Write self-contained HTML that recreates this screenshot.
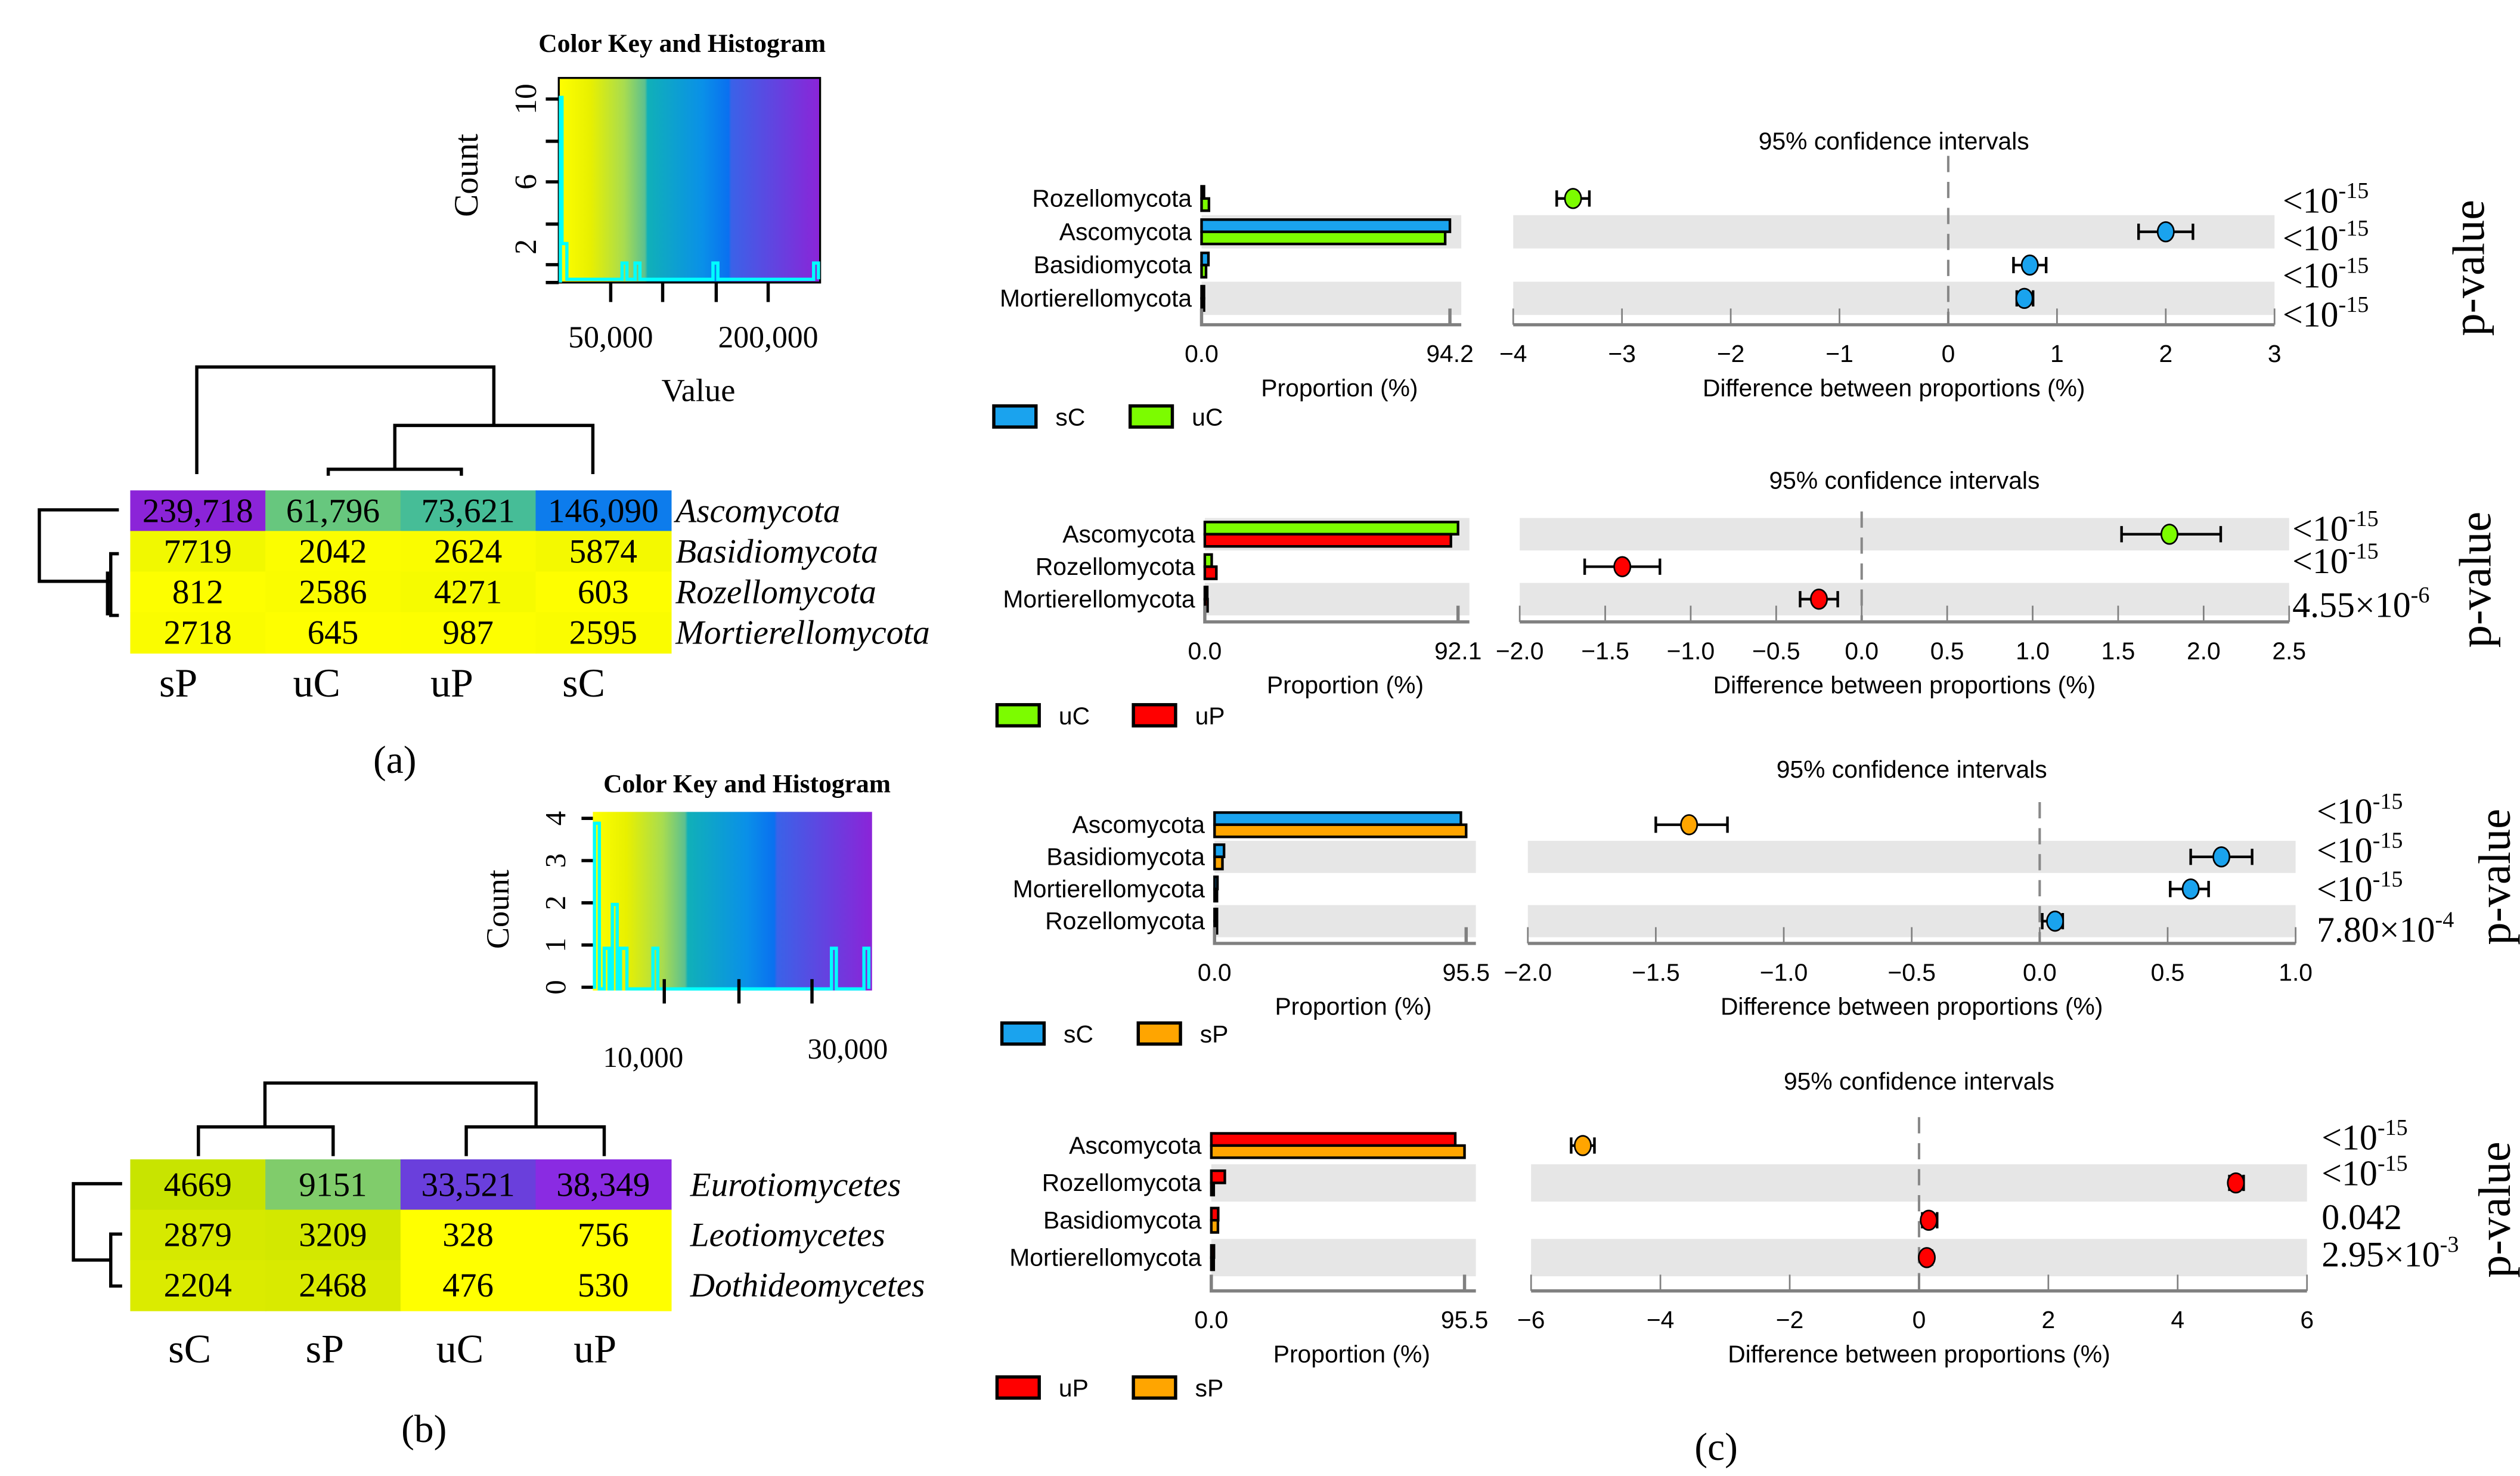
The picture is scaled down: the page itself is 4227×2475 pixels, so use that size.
<!DOCTYPE html>
<html><head><meta charset="utf-8">
<style>
html,body{margin:0;padding:0;background:#fff;}
svg{display:block;}
.serif{font-family:"Liberation Serif",serif;}
.sans{font-family:"Liberation Sans Narrow","Liberation Sans",sans-serif;}
</style></head>
<body>
<svg id="fig" width="4227" height="2475" viewBox="0 0 1552 909" xmlns="http://www.w3.org/2000/svg">
<defs>
<linearGradient id="keyGrad" x1="0" x2="1" y1="0" y2="0">
<stop offset="0" stop-color="#ffff00"/><stop offset="0.12" stop-color="#e8f000"/><stop offset="0.25" stop-color="#a8dc50"/><stop offset="0.33" stop-color="#5cc090"/>
<stop offset="0.34" stop-color="#10b0b8"/><stop offset="0.55" stop-color="#0a90e8"/><stop offset="0.65" stop-color="#0a70f0"/><stop offset="0.66" stop-color="#3a62e8"/><stop offset="1" stop-color="#8b24d8"/>
</linearGradient>
</defs>

<!-- ===== Panel (a) ===== -->
<g>
<text class="serif" x="420" y="32" font-size="16" font-weight="bold" text-anchor="middle">Color Key and Histogram</text>
<rect x="344" y="48" width="161" height="126" fill="url(#keyGrad)" stroke="#000" stroke-width="1.2"/>
<polyline points="345,174 345,60 346,60 346,150 349,150 349,172 383,172 383,162 386,162 386,172 391,172 391,162 394,162 394,172 439,172 439,162 442,162 442,172 501,172 501,162 504,162 504,172" fill="none" stroke="#00ffff" stroke-width="2"/>
<g stroke="#000" stroke-width="2">
<line x1="336" y1="61" x2="344" y2="61"/><line x1="336" y1="87" x2="344" y2="87"/><line x1="336" y1="112" x2="344" y2="112"/><line x1="336" y1="138" x2="344" y2="138"/><line x1="336" y1="163" x2="344" y2="163"/><line x1="336" y1="174" x2="344" y2="174"/>
<line x1="376" y1="174" x2="376" y2="186"/><line x1="408" y1="174" x2="408" y2="186"/><line x1="441" y1="174" x2="441" y2="186"/><line x1="473" y1="174" x2="473" y2="186"/>
</g>
<g class="serif" font-size="19">
<text transform="translate(330,61) rotate(-90)" text-anchor="middle">10</text>
<text transform="translate(330,112) rotate(-90)" text-anchor="middle">6</text>
<text transform="translate(330,152) rotate(-90)" text-anchor="middle">2</text>
<text transform="translate(294,108) rotate(-90)" text-anchor="middle" font-size="21">Count</text>
<text x="376" y="214" text-anchor="middle">50,000</text>
<text x="473" y="214" text-anchor="middle">200,000</text>
<text x="430" y="247" text-anchor="middle" font-size="20">Value</text>
</g>
<g fill="none" stroke="#000" stroke-width="2">
<polyline points="121,292 121,226 304,226 304,262"/>
<polyline points="243,289 243,262 365,262 365,292"/>
<polyline points="202,293 202,289 284,289 284,293"/>
</g>
<g fill="none" stroke="#000" stroke-width="2">
<polyline points="73,314 24,314 24,358 68,358"/>
<polyline points="73,341 68,341 68,379 73,379"/>
<polyline points="66,352 66,379"/>
</g>
<g id="heatA"></g>
<text class="serif" x="243" y="476" font-size="24" text-anchor="middle">(a)</text>
</g>

<!-- ===== Panel (b) ===== -->
<g>
<text class="serif" x="460" y="488" font-size="16" font-weight="bold" text-anchor="middle">Color Key and Histogram</text>
<rect x="365" y="500" width="172" height="110" fill="url(#keyGrad)"/>
<polyline points="366,609 366,507 369,507 369,609 372,609 372,584 375,584 375,609 377,609 377,557 380,557 380,609 382,609 382,584 386,584 386,609 402,609 402,584 405,584 405,609 512,609 512,584 515,584 515,609 532,609 532,584 535,584 535,609" fill="none" stroke="#00ffff" stroke-width="2"/>
<g stroke="#000" stroke-width="2">
<line x1="358" y1="608" x2="365" y2="608"/><line x1="358" y1="582" x2="365" y2="582"/><line x1="358" y1="556" x2="365" y2="556"/><line x1="358" y1="530" x2="365" y2="530"/><line x1="358" y1="504" x2="365" y2="504"/>
<line x1="409" y1="603" x2="409" y2="618"/><line x1="455" y1="603" x2="455" y2="618"/><line x1="500" y1="603" x2="500" y2="618"/>
</g>
<g class="serif" font-size="18">
<text transform="translate(348,608) rotate(-90)" text-anchor="middle">0</text>
<text transform="translate(348,582) rotate(-90)" text-anchor="middle">1</text>
<text transform="translate(348,556) rotate(-90)" text-anchor="middle">2</text>
<text transform="translate(348,530) rotate(-90)" text-anchor="middle">3</text>
<text transform="translate(348,504) rotate(-90)" text-anchor="middle">4</text>
<text transform="translate(313,560) rotate(-90)" text-anchor="middle" font-size="20">Count</text>
<text x="396" y="657" text-anchor="middle">10,000</text>
<text x="522" y="652" text-anchor="middle">30,000</text>
</g>
<g fill="none" stroke="#000" stroke-width="2">
<polyline points="163,694 163,667 330,667 330,694"/>
<polyline points="122,712 122,694 205,694 205,712"/>
<polyline points="287,712 287,694 372,694 372,712"/>
</g>
<g fill="none" stroke="#000" stroke-width="2">
<polyline points="75,729 45,729 45,776 68,776"/>
<polyline points="75,760 68,760 68,792 75,792"/>
</g>
<g id="heatB"></g>
<text class="serif" x="261" y="888" font-size="24" text-anchor="middle">(b)</text>
</g>

<g id="panelsC"></g>
<text class="serif" x="1057" y="899" font-size="24" text-anchor="middle">(c)</text>
</svg>

<script>
// ---------- Heatmap data ----------
const aRows = ["Ascomycota","Basidiomycota","Rozellomycota","Mortierellomycota"];
const aCols = ["sP","uC","uP","sC"];
const aVals = [[239718,61796,73621,146090],[7719,2042,2624,5874],[812,2586,4271,603],[2718,645,987,2595]];
const aLabels = [["239,718","61,796","73,621","146,090"],["7719","2042","2624","5874"],["812","2586","4271","603"],["2718","645","987","2595"]];
const bRows = ["Eurotiomycetes","Leotiomycetes","Dothideomycetes"];
const bCols = ["sC","sP","uC","uP"];
const bVals = [[4669,9151,33521,38349],[2879,3209,328,756],[2204,2468,476,530]];
const bLabels = [["4669","9151","33,521","38,349"],["2879","3209","328","756"],["2204","2468","476","530"]];

// ---------- Panel (c) data ----------
const c1Cats = ["Rozellomycota","Ascomycota","Basidiomycota","Mortierellomycota"];
const c1A = [0.3,94.2,2.6,0.9];
const c1B = [2.8,92.4,1.7,0.2];
const c1Diff = [-3.45,2.0,0.75,0.7];
const c1Lo = [-3.6,1.75,0.6,0.63];
const c1Hi = [-3.3,2.25,0.9,0.78];
const c1P = [["<10","-15"],["<10","-15"],["<10","-15"],["<10","-15"]];
const c1Ticks = [-4,-3,-2,-1,0,1,2,3];
const c1TickLabels = ["\u22124","\u22123","\u22122","\u22121","0","1","2","3"];

const c2Cats = ["Ascomycota","Rozellomycota","Mortierellomycota"];
const c2A = [92.1,2.5,0.6];
const c2B = [89.5,4.2,1.0];
const c2Diff = [1.8,-1.4,-0.25];
const c2Lo = [1.52,-1.62,-0.36];
const c2Hi = [2.1,-1.18,-0.14];
const c2P = [["<10","-15"],["<10","-15"],["4.55\u00d710","-6"]];
const c2Ticks = [-2,-1.5,-1,-0.5,0,0.5,1,1.5,2,2.5];
const c2TickLabels = ["\u22122.0","\u22121.5","\u22121.0","\u22120.5","0.0","0.5","1.0","1.5","2.0","2.5"];

const c3Cats = ["Ascomycota","Basidiomycota","Mortierellomycota","Rozellomycota"];
const c3A = [93.5,3.6,1.1,0.3];
const c3B = [95.5,3.0,0.5,0.25];
const c3Diff = [-1.37,0.71,0.59,0.06];
const c3Lo = [-1.5,0.59,0.51,0.01];
const c3Hi = [-1.22,0.83,0.66,0.09];
const c3P = [["<10","-15"],["<10","-15"],["<10","-15"],["7.80\u00d710","-4"]];
const c3Ticks = [-2,-1.5,-1,-0.5,0,0.5,1];
const c3TickLabels = ["\u22122.0","\u22121.5","\u22121.0","\u22120.5","0.0","0.5","1.0"];

const c4Cats = ["Ascomycota","Rozellomycota","Basidiomycota","Mortierellomycota"];
const c4A = [92.0,5.1,2.6,1.0];
const c4B = [95.5,0.3,2.5,0.9];
const c4Diff = [-5.2,4.9,0.15,0.12];
const c4Lo = [-5.38,4.8,0.05,0.06];
const c4Hi = [-5.02,5.02,0.28,0.2];
const c4P = [["<10","-15"],["<10","-15"],["0.042",""],["2.95\u00d710","-3"]];
const c4Ticks = [-6,-4,-2,0,2,4,6];
const c4TickLabels = ["\u22126","\u22124","\u22122","0","2","4","6"];

const NS = "http://www.w3.org/2000/svg";
function mk(tag, attrs, parent){ const e=document.createElementNS(NS,tag); for(const k in attrs) e.setAttribute(k,attrs[k]); if(parent) parent.appendChild(e); return e; }

function interp(stops, v){
  for(let i=1;i<stops.length;i++){ if(v<=stops[i][0]){ const t=(v-stops[i-1][0])/(stops[i][0]-stops[i-1][0]); const a=stops[i-1][1], b=stops[i][1]; return `rgb(${Math.round(a[0]+(b[0]-a[0])*t)},${Math.round(a[1]+(b[1]-a[1])*t)},${Math.round(a[2]+(b[2]-a[2])*t)})`; } }
  const l=stops[stops.length-1][1]; return `rgb(${l[0]},${l[1]},${l[2]})`;
}
function heatColor(v){
  return interp([[0,[255,255,0]],[5000,[245,250,0]],[10000,[238,246,0]],[60000,[108,200,122]],[75000,[66,188,154]],[150000,[10,120,240]],[240000,[139,36,216]]],v);
}
function heatColorB(v){
  return interp([[0,[255,255,0]],[1000,[255,255,0]],[2200,[219,235,0]],[4700,[200,228,0]],[9200,[127,204,108]],[33500,[106,63,220]],[38400,[138,43,226]]],v);
}

function drawHeat(g, rows, cols, vals, labels, x0, y0, cw, rh, colFn, rowLabelX, colLabelY, colLabelOffsets, fs){
  rows.forEach((r,i)=>{
    cols.forEach((c,j)=>{
      const rect=mk("rect",{x:x0+j*cw,y:y0+i*rh,width:cw+0.5,height:rh+0.5,fill:colFn(vals[i][j])},g);
      
      
      const t=mk("text",{x:x0+j*cw+cw/2,y:y0+i*rh+rh/2+7,"text-anchor":"middle","font-size":fs,class:"serif"},g);
      t.textContent=labels[i][j];
      
      
    });
    const rl=mk("text",{x:rowLabelX,y:y0+i*rh+rh/2+7,"font-size":fs,"font-style":"italic",class:"serif"},g);
    rl.textContent=r;
    
    
  });
  cols.forEach((c,j)=>{
    const cl=mk("text",{x:x0+j*cw+cw/2+colLabelOffsets[j],y:colLabelY,"text-anchor":"middle","font-size":25,class:"serif"},g);
    cl.textContent=c;
    
    
  });
}
drawHeat(document.getElementById("heatA"),aRows,aCols,aVals,aLabels,80,302,83.25,25,heatColor,416,429,[-12,-10,-10,-12],21);
drawHeat(document.getElementById("heatB"),bRows,bCols,bVals,bLabels,80,714,83.25,31,heatColorB,425,839,[-5,-5,-5,-5],21);

// ---------- Panel (c) ----------
const COL = {sC:"#1aa3ee", uC:"#7cfc00", uP:"#ff0000", sP:"#ffa500"};
function drawPanel(cfg, cats, A, B, diff, lo, hi, pv, ticks, tickLabels){
  const root=document.getElementById("panelsC");
  const g=mk("g",{},root);
  
  
  const n=cats.length, rh=cfg.rh;
  const xB=v=>cfg.bx0+(v/cfg.bmax)*(cfg.bx1-cfg.bx0);
  const xD=v=>cfg.dx0+(v-ticks[0])/(ticks[ticks.length-1]-ticks[0])*(cfg.dx1-cfg.dx0);
  const rowTop=i=>cfg.y0+i*rh;
  const FS=15;
  const tt=mk("text",{x:(cfg.dx0+cfg.dx1)/2,y:cfg.titleY,"text-anchor":"middle","font-size":FS,class:"sans"},g);
  tt.textContent="95% confidence intervals";
  
  
  for(let i=0;i<n;i++){ if(i%2===cfg.band){
    const b1=mk("rect",{x:cfg.bx0,y:rowTop(i),width:cfg.bandEnd-cfg.bx0,height:rh,fill:"#e6e6e6"},g);
    
    
    const b2=mk("rect",{x:cfg.dx0,y:rowTop(i),width:cfg.dx1-cfg.dx0,height:rh,fill:"#e6e6e6"},g);
    
    
  }}
  const z=mk("line",{x1:xD(0),x2:xD(0),y1:rowTop(0)-cfg.zTop,y2:cfg.axisY,stroke:"#888","stroke-width":1.5,"stroke-dasharray":"10,6"},g);
  
  
  for(let i=0;i<n;i++){
    const cy=rowTop(i)+rh/2;
    const lab=mk("text",{x:cfg.bx0-6,y:cy+5,"text-anchor":"end","font-size":FS,class:"sans"},g);
    lab.textContent=cats[i];
    
    
    const bh=Math.min(7.5,rh/2-2);
    const r1=mk("rect",{x:cfg.bx0,y:cy-bh,width:Math.max(xB(A[i])-cfg.bx0,1.5),height:bh,fill:cfg.colA,stroke:"#000","stroke-width":1.6},g);
    
    
    const r2=mk("rect",{x:cfg.bx0,y:cy,width:Math.max(xB(B[i])-cfg.bx0,1.5),height:bh,fill:cfg.colB,stroke:"#000","stroke-width":1.6},g);
    
    
    const ci=mk("path",{d:`M${xD(lo[i])},${cy}H${xD(hi[i])}M${xD(lo[i])},${cy-5}V${cy+5}M${xD(hi[i])},${cy-5}V${cy+5}`,stroke:"#000","stroke-width":1.6,fill:"none"},g);
    
    
    const pt=mk("ellipse",{cx:xD(diff[i]),cy:cy,rx:5,ry:6,fill:diff[i]>0?cfg.colA:cfg.colB,stroke:"#000","stroke-width":1},g);
    
    
    const pt2=mk("text",{x:cfg.px,y:cfg.py[i],"font-size":22,class:"serif"},g);
    const s1=mk("tspan",{},pt2); s1.textContent=pv[i][0];
    if(pv[i][1]){ const s2=mk("tspan",{dy:-9,"font-size":14},pt2); s2.textContent=pv[i][1]; }
    
    
  }
  const ax1=mk("path",{d:`M${cfg.bx0},${cfg.axisY-10}V${cfg.axisY}H${cfg.bandEnd}M${xB(cfg.bmax)},${cfg.axisY-10}V${cfg.axisY}`,stroke:"#808080","stroke-width":2,fill:"none"},g);
  
  
  [["0.0",cfg.bx0],[String(cfg.bmax.toFixed(1)),xB(cfg.bmax)]].forEach(([t,x])=>{
    const e=mk("text",{x:x,y:cfg.axisY+23,"text-anchor":"middle","font-size":FS,class:"sans"},g); e.textContent=t;
    
    
  });
  const ax2=mk("path",{d:`M${cfg.dx0},${cfg.axisY}H${cfg.dx1}`,stroke:"#808080","stroke-width":2,fill:"none"},g);
  
  
  ticks.forEach((v,k)=>{
    const tk=mk("line",{x1:xD(v),x2:xD(v),y1:cfg.axisY-10,y2:cfg.axisY,stroke:"#808080","stroke-width":1},g);
    
    
    const e=mk("text",{x:xD(v),y:cfg.axisY+23,"text-anchor":"middle","font-size":FS,class:"sans"},g); e.textContent=tickLabels[k];
    
    
  });
  const t1=mk("text",{x:(cfg.bx0+cfg.bandEnd)/2+5,y:cfg.axisY+44,"text-anchor":"middle","font-size":FS,class:"sans"},g); t1.textContent="Proportion (%)";
  
  
  const t2=mk("text",{x:(cfg.dx0+cfg.dx1)/2,y:cfg.axisY+44,"text-anchor":"middle","font-size":FS,class:"sans"},g); t2.textContent="Difference between proportions (%)";
  
  
  [[cfg.sA,cfg.colA,cfg.lx0],[cfg.sB,cfg.colB,cfg.lx0+84]].forEach(([s,c,x])=>{
    const r=mk("rect",{x:x,y:cfg.ly-6,width:26,height:13,fill:c,stroke:"#000","stroke-width":2},g);
    
    
    const e=mk("text",{x:x+38,y:cfg.ly+6,"font-size":FS,class:"sans"},g); e.textContent=s;
    
    
  });
  const pl=mk("text",{transform:`translate(${cfg.plx},${cfg.ply}) rotate(-90)`,"text-anchor":"middle","font-size":28,class:"serif"},g);
  pl.textContent="p-value";
  
  
}

drawPanel({name:"comparison-sC-uC",sA:"sC",sB:"uC",colA:COL.sC,colB:COL.uC,rh:20.5,y0:112,titleY:92,bx0:740,bx1:893,bmax:94.2,bandEnd:900,dx0:932,dx1:1401,band:1,zTop:16,axisY:200,px:1406,py:[131,154,177,201],lx0:612,ly:256,plx:1530,ply:165},
  c1Cats,c1A,c1B,c1Diff,c1Lo,c1Hi,c1P,c1Ticks,c1TickLabels);
drawPanel({name:"comparison-uC-uP",sA:"uC",sB:"uP",colA:COL.uC,colB:COL.uP,rh:20,y0:319,titleY:301,bx0:742,bx1:898,bmax:92.1,bandEnd:905,dx0:936,dx1:1410,band:0,zTop:4,axisY:383,px:1412,py:[333,353,380],lx0:614,ly:440,plx:1534,ply:357},
  c2Cats,c2A,c2B,c2Diff,c2Lo,c2Hi,c2P,c2Ticks,c2TickLabels);
drawPanel({name:"comparison-sC-sP",sA:"sC",sB:"sP",colA:COL.sC,colB:COL.sP,rh:19.8,y0:498,titleY:479,bx0:748,bx1:903,bmax:95.5,bandEnd:909,dx0:941,dx1:1414,band:1,zTop:4,axisY:581,px:1427,py:[507,531,555,580],lx0:617,ly:636,plx:1546,ply:540},
  c3Cats,c3A,c3B,c3Diff,c3Lo,c3Hi,c3P,c3Ticks,c3TickLabels);
drawPanel({name:"comparison-uP-sP",sA:"uP",sB:"sP",colA:COL.uP,colB:COL.sP,rh:23,y0:694,titleY:671,bx0:746,bx1:902,bmax:95.5,bandEnd:909,dx0:943,dx1:1421,band:1,zTop:6,axisY:795,px:1430,py:[708,730,757,780],lx0:614,ly:854,plx:1546,ply:745},
  c4Cats,c4A,c4B,c4Diff,c4Lo,c4Hi,c4P,c4Ticks,c4TickLabels);
</script>
</body></html>
